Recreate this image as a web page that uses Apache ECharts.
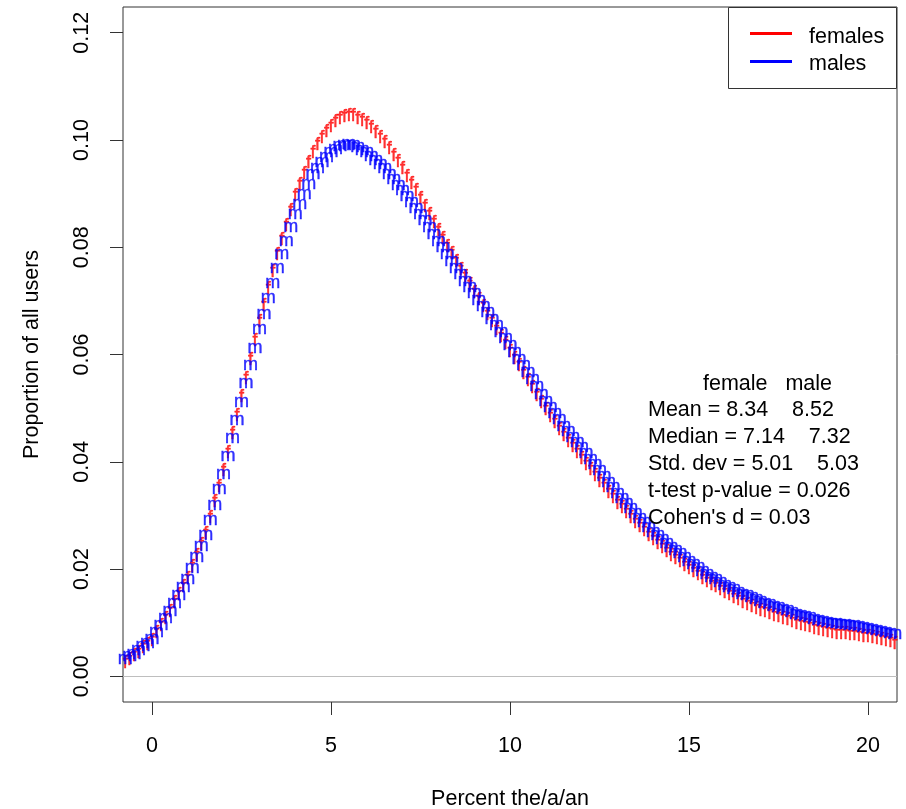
<!DOCTYPE html>
<html>
<head>
<meta charset="utf-8">
<script src="https://cdn.jsdelivr.net/npm/echarts@6/dist/echarts.min.js"></script>
<style>
  html, body { margin: 0; padding: 0; background: #fff; }
  #chart { width: 906px; height: 809px; }
</style>
</head>
<body>
<div id="chart"></div>
<script>
// Kernel density grid: x = gridStart + i * gridStep
const gridStart = -0.75;
const gridStep = 0.125;

// Estimated density (proportion of all users) at each grid point
const femaleDensity = [
  0.0025,0.0031,
  0.0037,0.0044,0.0052,0.0059, 0.0066,0.0080,0.0093,0.0107,
  0.0120,0.0136,0.0151,0.0167, 0.0182,0.0203,0.0224,0.0245,
  0.0266,0.0295,0.0324,0.0353, 0.0382,0.0417,0.0451,0.0486,
  0.0520,0.0555,0.0590,0.0625, 0.0660,0.0691,0.0723,0.0754,
  0.0785,0.0813,0.0840,0.0868, 0.0895,0.0916,0.0937,0.0957,
  0.0975,0.0990,0.1003,0.1015, 0.1025,0.1033,0.1039,0.1043,
  0.1045,0.1044,0.1040,0.1036, 0.1030,0.1022,0.1013,0.1004,
  0.0995,0.0983,0.0970,0.0958, 0.0945,0.0931,0.0918,0.0904,
  0.0890,0.0875,0.0860,0.0845, 0.0830,0.0816,0.0801,0.0787,
  0.0772,0.0758,0.0744,0.0729, 0.0715,0.0701,0.0688,0.0674,
  0.0660,0.0646,0.0633,0.0619, 0.0605,0.0591,0.0578,0.0564,
  0.0550,0.0537,0.0523,0.0510, 0.0496,0.0484,0.0472,0.0460,
  0.0448,0.0437,0.0427,0.0416, 0.0405,0.0394,0.0384,0.0373,
  0.0362,0.0352,0.0342,0.0332, 0.0322,0.0313,0.0304,0.0295,
  0.0286,0.0278,0.0270,0.0262, 0.0254,0.0247,0.0240,0.0232,
  0.0225,0.0219,0.0213,0.0206, 0.0200,0.0194,0.0188,0.0182,
  0.0176,0.0171,0.0166,0.0160, 0.0155,0.0151,0.0146,0.0142,
  0.0137,0.0133,0.0130,0.0126, 0.0122,0.0119,0.0116,0.0113,
  0.0110,0.0107,0.0104,0.0101, 0.0098,0.0096,0.0093,0.0091,
  0.0088,0.0086,0.0084,0.0082, 0.0080,0.0079,0.0078,0.0078,
  0.0077,0.0076,0.0075,0.0074, 0.0073,0.0071,0.0070,0.0068,
  0.0066,0.0063,0.0060
];
const maleDensity = [
  0.0030,0.0035,
  0.0040,0.0047,0.0054,0.0061, 0.0068,0.0081,0.0094,0.0107,
  0.0120,0.0135,0.0150,0.0165, 0.0180,0.0200,0.0221,0.0241,
  0.0262,0.0290,0.0318,0.0347, 0.0375,0.0409,0.0443,0.0476,
  0.0510,0.0544,0.0578,0.0611, 0.0645,0.0674,0.0703,0.0731,
  0.0760,0.0785,0.0810,0.0835, 0.0860,0.0879,0.0898,0.0916,
  0.0935,0.0946,0.0957,0.0967, 0.0975,0.0981,0.0986,0.0989,
  0.0990,0.0989,0.0985,0.0980, 0.0975,0.0968,0.0960,0.0953,
  0.0945,0.0935,0.0925,0.0915, 0.0905,0.0894,0.0883,0.0871,
  0.0860,0.0848,0.0835,0.0823, 0.0810,0.0798,0.0785,0.0773,
  0.0760,0.0748,0.0736,0.0724, 0.0712,0.0700,0.0689,0.0677,
  0.0665,0.0653,0.0640,0.0628, 0.0615,0.0603,0.0590,0.0578,
  0.0565,0.0552,0.0539,0.0525, 0.0512,0.0500,0.0489,0.0477,
  0.0465,0.0455,0.0445,0.0435, 0.0425,0.0414,0.0404,0.0393,
  0.0382,0.0372,0.0361,0.0351, 0.0340,0.0331,0.0321,0.0312,
  0.0302,0.0294,0.0285,0.0277, 0.0268,0.0261,0.0254,0.0247,
  0.0240,0.0233,0.0227,0.0220, 0.0213,0.0207,0.0201,0.0195,
  0.0189,0.0184,0.0179,0.0173, 0.0168,0.0164,0.0160,0.0156,
  0.0152,0.0149,0.0145,0.0142, 0.0138,0.0135,0.0133,0.0130,
  0.0127,0.0124,0.0121,0.0118, 0.0115,0.0113,0.0110,0.0108,
  0.0105,0.0103,0.0102,0.0100, 0.0098,0.0097,0.0096,0.0095,
  0.0094,0.0093,0.0092,0.0090, 0.0089,0.0087,0.0085,0.0083,
  0.0081,0.0079,0.0077
];

const xTicks = [0, 5, 10, 15, 20];
const yTicks = [0, 0.02, 0.04, 0.06, 0.08, 0.10, 0.12];

const legendNames = ['females', 'males'];
const seriesColors = ['#ff0000', '#0000ff'];
const pointLetters = ['f', 'm'];

const statsHeader = 'female   male';
const statsLines = [
  'Mean = 8.34    8.52',
  'Median = 7.14    7.32',
  'Std. dev = 5.01    5.03',
  't-test p-value = 0.026',
  "Cohen's d = 0.03"
];

const FONT = '"Liberation Sans", Arial, Helvetica, sans-serif';
const TEXT_SIZE = 21.5;

function toPoints(values) {
  return values.map((v, i) => [+(gridStart + i * gridStep).toFixed(3), v]);
}

const chart = echarts.init(document.getElementById('chart'), null, { renderer: 'canvas' });

// each density point is drawn as a letter centred on its position
function letterSeries(name, values, letter, color, dy) {
  return {
    name: name,
    type: 'scatter',
    data: toPoints(values),
    symbolSize: 0.001,
    itemStyle: { color: color },
    silent: true,
    clip: true,
    label: {
      show: true,
      position: 'inside',
      formatter: letter,
      color: color,
      fontFamily: FONT,
      fontSize: 18,
      textBorderColor: color,
      textBorderWidth: 0.4,
      offset: [0, dy]
    },
    emphasis: { disabled: true }
  };
}

const femaleSeries = letterSeries(legendNames[0], femaleDensity, pointLetters[0], seriesColors[0], 0);
// zero reference line
femaleSeries.markLine = {
  silent: true,
  symbol: 'none',
  label: { show: false },
  lineStyle: { color: '#bebebe', width: 1, type: 'solid' },
  data: [{ yAxis: 0 }],
  animation: false
};
const maleSeries = letterSeries(legendNames[1], maleDensity, pointLetters[1], seriesColors[1], -1);

// legend box (line keys) and the summary statistics block
const textStyle = (t) => ({ text: t, font: TEXT_SIZE + 'px ' + FONT, fill: '#000', verticalAlign: 'middle', align: 'left' });
const graphics = [
  { type: 'rect', shape: { x: 728.5, y: 7.5, width: 168, height: 81 },
    style: { fill: '#fff', stroke: '#333', lineWidth: 1 }, z: 10 },
  { type: 'line', shape: { x1: 750, y1: 33.5, x2: 792, y2: 33.5 },
    style: { stroke: seriesColors[0], lineWidth: 3 }, z: 11 },
  { type: 'line', shape: { x1: 750, y1: 61.5, x2: 792, y2: 61.5 },
    style: { stroke: seriesColors[1], lineWidth: 3 }, z: 11 },
  { type: 'text', x: 809, y: 37, z: 11, style: textStyle(legendNames[0]) },
  { type: 'text', x: 809, y: 64.5, z: 11, style: textStyle(legendNames[1]) },
  { type: 'text', x: 703, y: 384.5, z: 11, style: textStyle(statsHeader) }
];
statsLines.forEach((line, i) => {
  graphics.push({ type: 'text', x: 648, y: 410 + i * 26.9, z: 11, style: textStyle(line) });
});

const option = {
  animation: false,
  backgroundColor: '#fff',
  textStyle: { fontFamily: FONT },
  grid: {
    left: 123, right: 9, top: 7, bottom: 107,
    containLabel: false,
    outerBoundsMode: 'none',
    show: true, borderColor: '#333', borderWidth: 1, backgroundColor: 'transparent'
  },
  xAxis: {
    type: 'value',
    min: -0.81, max: 20.81,
    name: 'Percent the/a/an',
    nameLocation: 'middle',
    nameGap: 86,
    nameTextStyle: { fontFamily: FONT, fontSize: TEXT_SIZE, color: '#000' },
    axisLine: { show: false, onZero: false },
    splitLine: { show: false },
    axisTick: { show: true, inside: false, length: 13, customValues: xTicks,
      lineStyle: { color: '#333', width: 1 } },
    axisLabel: { show: true, margin: 33, customValues: xTicks,
      fontFamily: FONT, fontSize: TEXT_SIZE, color: '#000',
      formatter: v => String(v) }
  },
  yAxis: {
    type: 'value',
    min: -0.0048, max: 0.1248,
    name: 'Proportion of all users',
    nameLocation: 'middle',
    nameRotate: 90,
    nameGap: 80,
    nameTextStyle: { fontFamily: FONT, fontSize: TEXT_SIZE, color: '#000' },
    axisLine: { show: false, onZero: false },
    splitLine: { show: false },
    axisTick: { show: true, inside: false, length: 13, customValues: yTicks,
      lineStyle: { color: '#333', width: 1 } },
    axisLabel: { show: true, margin: 30, rotate: 90, customValues: yTicks,
      fontFamily: FONT, fontSize: TEXT_SIZE, color: '#000',
      formatter: v => v.toFixed(2) }
  },
  series: [femaleSeries, maleSeries],
  graphic: graphics
};

chart.setOption(option);
</script>
</body>
</html>
